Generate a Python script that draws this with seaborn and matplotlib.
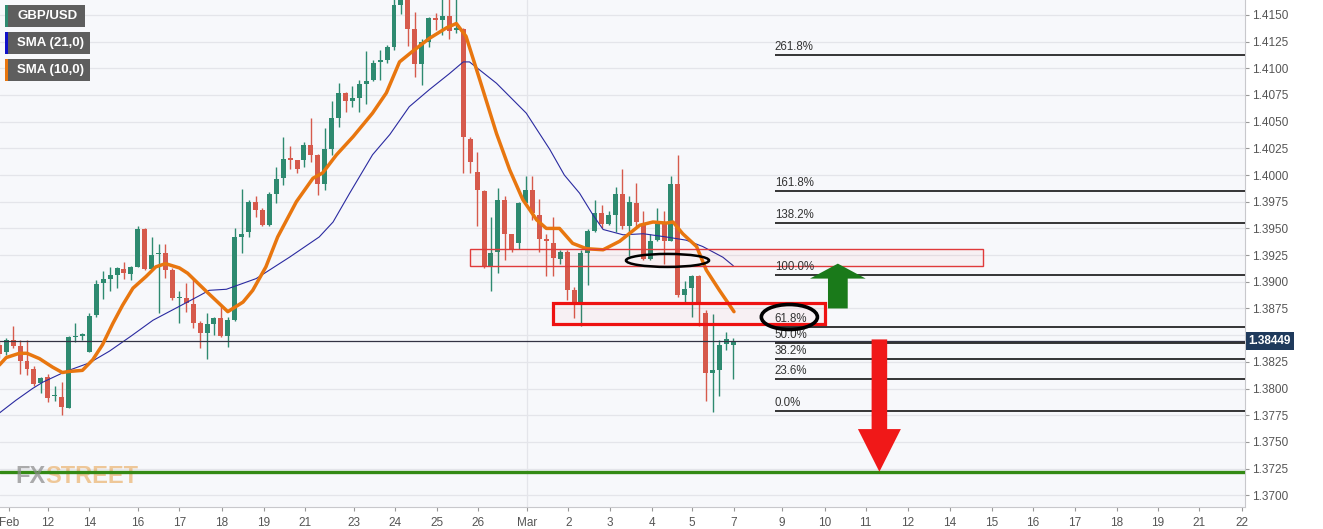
import numpy as np
import pandas as pd
import matplotlib
matplotlib.use("Agg")
import matplotlib.pyplot as plt
import seaborn as sns
from matplotlib.patches import Rectangle, Ellipse, FancyArrow

# GBP/USD 4h свічки (читання з графіка)
opens = [1.3841, 1.3834, 1.3845, 1.3840, 1.3826, 1.3818, 1.3805, 1.3811, 1.3793, 1.3792,
         1.3782, 1.3848, 1.3849, 1.3834, 1.3869, 1.3899, 1.3903, 1.3906, 1.3912, 1.3907,
         1.3914, 1.3949, 1.3912, 1.3926, 1.3927, 1.3911, 1.3885, 1.3885, 1.3879, 1.3861,
         1.3852, 1.3860, 1.3866, 1.3849, 1.3864, 1.3942, 1.3947, 1.3975, 1.3967, 1.3953,
         1.3982, 1.3997, 1.4016, 1.4014, 1.4014, 1.4028, 1.4019, 1.3992, 1.4024, 1.4053,
         1.4077, 1.4069, 1.4072, 1.4085, 1.4089, 1.4106, 1.4108, 1.4120, 1.4159, 1.4165,
         1.4137, 1.4104, 1.4125, 1.4147, 1.4145, 1.4149, 1.4136, 1.4137, 1.4034, 1.4003,
         1.3985, 1.3914, 1.3928, 1.3977, 1.3945, 1.3936, 1.3974, 1.3986, 1.3963, 1.3940,
         1.3936, 1.3921, 1.3928, 1.3892, 1.3880, 1.3927, 1.3948, 1.3964, 1.3954, 1.3963,
         1.3982, 1.3952, 1.3974, 1.3953, 1.3921, 1.3939, 1.3955, 1.3938, 1.3992, 1.3888,
         1.3894, 1.3905, 1.3871, 1.3815, 1.3817, 1.3842, 1.3841]
highs = [1.3845, 1.3847, 1.3859, 1.3845, 1.3845, 1.3821, 1.3811, 1.3814, 1.3802, 1.3806,
         1.3849, 1.3861, 1.3852, 1.3871, 1.3902, 1.3910, 1.3914, 1.3914, 1.3919, 1.3915,
         1.3952, 1.3950, 1.3942, 1.3935, 1.3935, 1.3913, 1.3891, 1.3899, 1.3904, 1.3863,
         1.3871, 1.3867, 1.3877, 1.3867, 1.3950, 1.3987, 1.3977, 1.3980, 1.3969, 1.3984,
         1.4008, 1.4036, 1.4027, 1.4014, 1.4031, 1.4053, 1.4020, 1.4044, 1.4069, 1.4086,
         1.4078, 1.4083, 1.4089, 1.4116, 1.4108, 1.4117, 1.4122, 1.4167, 1.4172, 1.4172,
         1.4153, 1.4127, 1.4148, 1.4152, 1.4167, 1.4167, 1.4167, 1.4138, 1.4036, 1.4022,
         1.3986, 1.3961, 1.3988, 1.3980, 1.3945, 1.3975, 1.3999, 1.3999, 1.3978, 1.3945,
         1.3961, 1.3930, 1.3930, 1.3895, 1.3930, 1.3949, 1.3977, 1.3972, 1.3966, 1.3989,
         1.4006, 1.3980, 1.3993, 1.3966, 1.3945, 1.3969, 1.3966, 1.3999, 1.4019, 1.3901,
         1.3906, 1.3906, 1.3874, 1.3870, 1.3845, 1.3853, 1.3847]
lows = [1.3829, 1.3831, 1.3838, 1.3814, 1.3813, 1.3802, 1.3796, 1.3787, 1.3788, 1.3775,
        1.3782, 1.3844, 1.3845, 1.3834, 1.3867, 1.3884, 1.3891, 1.3894, 1.3903, 1.3902,
        1.3914, 1.3911, 1.3911, 1.3871, 1.3904, 1.3883, 1.3861, 1.3872, 1.3857, 1.3838,
        1.3828, 1.3850, 1.3848, 1.3839, 1.3863, 1.3927, 1.3942, 1.3961, 1.3952, 1.3952,
        1.3974, 1.3991, 1.4006, 1.4002, 1.4008, 1.4012, 1.3981, 1.3986, 1.4019, 1.4045,
        1.4059, 1.4064, 1.4059, 1.4067, 1.4088, 1.4089, 1.4105, 1.4117, 1.4151, 1.4121,
        1.4092, 1.4084, 1.4120, 1.4136, 1.4131, 1.4127, 1.4133, 1.4002, 1.4002, 1.3952,
        1.3913, 1.3891, 1.3908, 1.3920, 1.3928, 1.3931, 1.3974, 1.3958, 1.3928, 1.3905,
        1.3905, 1.3917, 1.3883, 1.3866, 1.3859, 1.3897, 1.3947, 1.3950, 1.3953, 1.3947,
        1.3949, 1.3924, 1.3950, 1.3920, 1.3920, 1.3938, 1.3917, 1.3938, 1.3886, 1.3881,
        1.3867, 1.3859, 1.3788, 1.3778, 1.3793, 1.3836, 1.3809]
closes = [1.3832, 1.3845, 1.3840, 1.3826, 1.3818, 1.3804, 1.3810, 1.3791, 1.3794, 1.3783,
          1.3848, 1.3849, 1.3851, 1.3868, 1.3898, 1.3903, 1.3906, 1.3913, 1.3908, 1.3914,
          1.3949, 1.3912, 1.3925, 1.3927, 1.3911, 1.3885, 1.3886, 1.3880, 1.3861, 1.3852,
          1.3860, 1.3866, 1.3849, 1.3864, 1.3942, 1.3945, 1.3975, 1.3967, 1.3953, 1.3982,
          1.3996, 1.4015, 1.4014, 1.4006, 1.4028, 1.4019, 1.3992, 1.4024, 1.4053, 1.4077,
          1.4069, 1.4072, 1.4085, 1.4088, 1.4105, 1.4108, 1.4120, 1.4159, 1.4166, 1.4137,
          1.4104, 1.4125, 1.4147, 1.4145, 1.4149, 1.4135, 1.4138, 1.4036, 1.4012, 1.3986,
          1.3914, 1.3927, 1.3977, 1.3945, 1.3930, 1.3974, 1.3986, 1.3964, 1.3940, 1.3938,
          1.3922, 1.3928, 1.3892, 1.3879, 1.3927, 1.3948, 1.3964, 1.3954, 1.3963, 1.3982,
          1.3952, 1.3975, 1.3956, 1.3921, 1.3938, 1.3954, 1.3938, 1.3992, 1.3888, 1.3893,
          1.3905, 1.3880, 1.3815, 1.3817, 1.3841, 1.3846, 1.38449]

# SMA (10) і SMA (21) (індекс свічки, ціна)
sma10_x = [0, 1, 2.9, 4, 5.8, 7.7, 9.1, 10.1, 12, 13.5, 14.9, 16.4, 17.8, 19.3, 21.2, 22.6,
           24, 26, 27.2, 29.9, 33, 35.2, 36.6, 38.5, 40.2, 42.9, 45.3, 46.7, 48.7, 51.1,
           53.9, 55.9, 57.8, 59.7, 62.1, 64.6, 66, 67.4, 69.4, 71.8, 73.7, 75.6, 77.6, 79,
           80.9, 82.8, 84.8, 87.2, 89.6, 92.5, 94.4, 96.3, 97.3, 98.7, 100.7, 102.1, 104, 106.1]
sma10_y = [1.3822, 1.3829, 1.3833, 1.3833, 1.3828, 1.3820, 1.3815, 1.3816, 1.3817, 1.3827,
           1.3841, 1.3861, 1.3878, 1.3894, 1.3905, 1.3914, 1.3917, 1.3913, 1.3908, 1.3891,
           1.3872, 1.3881, 1.3892, 1.3914, 1.3942, 1.3975, 1.3997, 1.4002, 1.4019, 1.4036,
           1.4058, 1.4077, 1.4106, 1.4116, 1.4128, 1.4138, 1.4142, 1.4130, 1.4089, 1.4039,
           1.4005, 1.3977, 1.3958, 1.3950, 1.3950, 1.3936, 1.3931, 1.3930, 1.3938, 1.3953,
           1.3956, 1.3955, 1.3956, 1.3945, 1.3933, 1.3911, 1.3892, 1.3872]
sma21_x = [0, 2.4, 4.8, 6.3, 9.6, 13, 15.9, 19, 22.2, 26, 28.9, 30.3, 32.8, 37.1, 41.9,
           46.2, 48.2, 50.6, 53.9, 56.4, 59.2, 62.1, 65, 67, 67.9, 71.8, 76.1, 79.5, 81.6,
           83.8, 85.7, 87.2, 90.1, 93, 96.3, 99.2, 101.6, 104.5, 106]
sma21_y = [1.3777, 1.3789, 1.3800, 1.3806, 1.3816, 1.3824, 1.3835, 1.3849, 1.3864, 1.3877,
           1.3887, 1.3892, 1.3893, 1.3903, 1.3923, 1.3942, 1.3956, 1.3983, 1.4019, 1.4038,
           1.4064, 1.4080, 1.4095, 1.4106, 1.4106, 1.4086, 1.4058, 1.4024, 1.4000, 1.3983,
           1.3963, 1.3949, 1.3944, 1.3945, 1.3942, 1.3939, 1.3933, 1.3923, 1.3915]

# підписи осі X (позиції в індексах свічок)
tick_pos = [1.4, 7.0, 13.0, 20.0, 26.0, 32.1, 38.2, 44.1, 51.2, 57.1, 63.2, 69.1, 76.2,
            82.2, 88.2, 94.2, 100.0, 106.1, 113.0, 119.2, 125.1, 131.2, 137.3, 143.3,
            149.3, 155.3, 161.4, 167.3, 173.3, 179.5]
tick_labels = ["Feb", "12", "14", "16", "17", "18", "19", "21", "23", "24", "25", "26", "Mar",
               "2", "3", "4", "5", "7", "9", "10", "11", "12", "14", "15", "16", "17", "18",
               "19", "21", "22"]

# Фібоначчі
fib_low = 1.37788
fib_high = 1.39063
fib_ratios = [2.618, 1.618, 1.382, 1.0, 0.618, 0.5, 0.382, 0.236, 0.0]
fib_start = 112

last_price = 1.38449
target_level = 1.3722

GREEN = "#2e8a70"
RED = "#d65a4c"

sns.set_theme(style="white")
plt.rcParams["font.family"] = ["Liberation Sans", "DejaVu Sans"]

W, H = 1323, 529
fig = plt.figure(figsize=(W / 100, H / 100), dpi=100, facecolor="white")
ax = fig.add_axes([0, 22 / H, 1245 / W, 507 / H])
ax.set_facecolor("#f7f8fb")
ax.set_xlim(0.1, 179.9)
ax.set_ylim(1.3689, 1.4164)

yticks = np.round(np.arange(1.3700, 1.41501, 0.0025), 4)
for yv in yticks:
    ax.axhline(yv, color="#e4e5ea", lw=0.9, zorder=0)
ax.axvline(76.2, color="#e4e5ea", lw=0.9, zorder=0)

# свічки
df = pd.DataFrame({"open": opens, "high": highs, "low": lows, "close": closes})
df["i"] = np.arange(len(df))
colors = np.where(df["close"] >= df["open"], GREEN, RED)
ax.vlines(df["i"], df["low"], df["high"], colors=colors, lw=1, zorder=2)
body = (df["close"] - df["open"]).abs().clip(lower=0.00008)
ax.bar(df["i"], body, bottom=df[["open", "close"]].min(axis=1), width=0.72,
       color=colors, linewidth=0, zorder=3)

# ковзні середні
sns.lineplot(x=sma21_x, y=sma21_y, ax=ax, color="#2a2aa0", lw=0.8, zorder=4)
sns.lineplot(x=sma10_x, y=sma10_y, ax=ax, color="#e8760f", lw=2.5, zorder=5)

# поточна ціна і ціль
ax.axhline(last_price, color="#333344", lw=0.9, zorder=4)
ax.axhline(target_level, color="#338a14", lw=2.4, zorder=4)

# зони
ax.add_patch(Rectangle((68.0, 1.3915), 74.0, 0.0016, fc=(1, 0, 0, 0.03), ec="#e03a3a", lw=1, zorder=6))
ax.add_patch(Rectangle((80.0, 1.3860), 39.2, 0.0020, fc=(1, 0, 0, 0.03), ec="#ee1111", lw=2.3, zorder=6))

# рівні Фібоначчі
for r in fib_ratios:
    lvl = fib_low + r * (fib_high - fib_low)
    ax.hlines(lvl, fib_start, 179.9, color="black", lw=1.1, zorder=6)
    ax.annotate(f"{r * 100:.1f}%", (fib_start, lvl), xytext=(0, 1.5), textcoords="offset points",
                fontsize=8.3, color="#333333", va="bottom", ha="left", zorder=7)

# еліпси
ax.add_patch(Ellipse((96.5, 1.3920), 12.0, 0.00122, fill=False, ec="black", lw=1.8, zorder=7))
ax.add_patch(Ellipse((114.1, 1.3867), 8.1, 0.00234, fill=False, ec="black", lw=2.6, zorder=7))

# стрілки
ax.add_patch(FancyArrow(121.1, 1.3875, 0, 0.0042, width=2.85, head_width=8.05, head_length=0.0014,
                        length_includes_head=True, color="#1a7a1a", lw=0, zorder=8))
ax.add_patch(FancyArrow(127.1, 1.3846, 0, 1.3722 - 1.3846, width=2.25, head_width=6.2,
                        head_length=0.0040, length_includes_head=True, color="#f01818", lw=0, zorder=8))

# осі
ax.yaxis.tick_right()
ax.set_yticks(yticks)
# мітку 1.3850 закриває плашка поточної ціни
ax.set_yticklabels(["" if abs(v - 1.385) < 1e-6 else f"{v:.4f}" for v in yticks])
ax.set_xticks(tick_pos)
ax.set_xticklabels(tick_labels)
ax.tick_params(axis="y", right=True, length=3, width=0.8, color="#999999", labelsize=8.5,
               labelcolor="#555555", pad=2)
ax.tick_params(axis="x", bottom=True, length=3, width=0.8, color="#999999", labelsize=8.5,
               labelcolor="#555555", pad=4)
for side in ["top", "left"]:
    ax.spines[side].set_visible(False)
for side in ["right", "bottom"]:
    ax.spines[side].set_color("#c8c8cc")
    ax.spines[side].set_linewidth(0.8)

ax.text(1.003, last_price, "1.38449", transform=ax.get_yaxis_transform(), ha="left", va="center",
        fontsize=8.5, fontweight="bold", color="white", zorder=10, clip_on=False,
        bbox=dict(boxstyle="square,pad=0.25", fc="#1f3a5c", ec="none"))

# легенда зліва вгорі
def fx(px):
    return px / W

def fy(py):
    return 1 - py / H

legend_items = [("GBP/USD", GREEN, 80), ("SMA (21,0)", "#1010c8", 85), ("SMA (10,0)", "#e8760f", 85)]
for k, (name, stripe, wpx) in enumerate(legend_items):
    top = 5 + k * 27
    fig.add_artist(Rectangle((fx(5), fy(top + 22)), fx(wpx), 22 / H, transform=fig.transFigure,
                             fc="#5e5e5e", ec="none"))
    fig.add_artist(Rectangle((fx(5), fy(top + 22)), fx(2.5), 22 / H, transform=fig.transFigure,
                             fc=stripe, ec="none"))
    fig.text(fx(17), fy(top + 11), name, color="white", fontsize=9.5, fontweight="bold", va="center")

# водяний знак
fx_txt = fig.text(fx(15), fy(483), "FX", color="#8a8a8a", alpha=0.7, fontsize=17,
                  fontweight="bold", va="baseline")
ax.annotate("STREET", xy=(1, 0), xycoords=fx_txt, xytext=(0, 0), textcoords="offset points",
            color="#e8a048", alpha=0.55, fontsize=17, fontweight="bold", va="bottom",
            annotation_clip=False)

fig.savefig("out.png", dpi=100)
